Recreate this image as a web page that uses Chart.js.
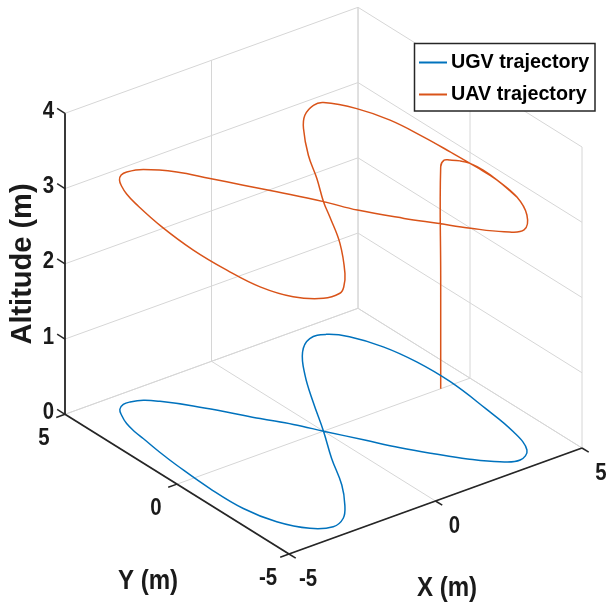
<!DOCTYPE html>
<html>
<head>
<meta charset="utf-8">
<script src="https://cdn.jsdelivr.net/npm/chart.js@4.4.1/dist/chart.umd.min.js"></script>
<style>
  html, body { margin: 0; padding: 0; background: #fff; }
  canvas { display: block; }
</style>
</head>
<body>
<canvas id="chartCanvas" width="608" height="610"></canvas>
<script>
// axis ticks (m)
const xTicks = [-5, 0, 5];
const yTicks = [-5, 0, 5];
const zTicks = [0, 1, 2, 3, 4];

// UGV ground track (z = 0)
const ugvX = [0, -0.42, -0.93, -1.43, -1.94, -2.50, -2.82, -3.17, -3.40, -3.64, -3.81, -3.99, -4.10, -4.15, -4.27, -4.35, -4.44, -4.41, -4.15, -3.66, -3.10, -2.59, -2.10, -1.47, -0.77,
              0, 0.79, 1.54, 2.29, 2.91, 3.41, 3.83, 4.21, 4.41, 4.45, 4.29, 4.08, 3.74, 3.25, 2.75, 2.15, 1.60, 1.08, 0.58, 0];
const ugvY = [0, 0.80, 1.61, 2.46, 3.28, 4.03, 4.35, 4.49, 4.49, 4.33, 4.03, 3.57, 3.05, 2.62, 1.71, 0.86, -0.74, -2.19, -3.34, -4.18, -4.49, -4.27, -3.70, -2.74, -1.37,
              0, 1.50, 2.84, 3.93, 4.42, 4.34, 3.85, 2.84, 1.61, 0.16, -1.59, -3.14, -4.19, -4.53, -4.28, -3.62, -2.83, -2.01, -1.08, 0];

// UAV: vertical take-off, then the figure eight at about 3 m
const uavX = [4, 4, 4, 4.04, 4.17, 4.36, 4.49, 4.54,
              4.50, 4.34, 3.93, 3.35, 2.86, 2.26, 1.71, 1.16, 0.44, 0,
              -0.67, -1.16, -1.65, -2.14, -2.78, -3.22, -3.45, -3.66, -3.82, -3.99, -4.12,
              -4.36, -4.49, -4.46, -4.32, -3.95, -3.35, -2.82, -2.52, -2.02, -1.09, -0.39, 0,
              0.66, 1.28, 2.10, 2.59, 3.12, 3.43, 3.94, 4.26, 4.40, 4.46, 4.50, 4.50, 4.34];
const uavY = [0, 0, 0, -0.10, -0.19, -0.39, -0.67, -1.19,
              -1.85, -2.95, -3.94, -4.57, -4.32, -3.62, -2.85, -2.08, -0.94, 0,
              1.21, 2.06, 2.91, 3.75, 4.41, 4.57, 4.52, 4.32, 4.02, 3.57, 3.02,
              1.54, -0.06, -1.52, -2.82, -3.81, -4.38, -4.42, -4.20, -3.60, -2.16, -0.79, 0,
              1.16, 2.35, 3.64, 4.22, 4.53, 4.49, 3.67, 2.60, 1.30, 0.18, -0.95, -1.85, -2.95];
const uavZ = [0, 1.5, 2.95, 3.05, 3.05,
              3.05, 3.05, 3.05, 3.05, 3.05, 3.05, 3.05, 3.05, 3.05, 3.05,
              3.05, 3.05, 3.05, 3.05, 3.05, 3.05, 3.05, 3.05, 3.05, 3.05, 3.05,
              3.05, 3.05, 3.05, 3.05, 3.05, 3.05, 3.05, 3.05, 3.05, 3.05, 3.05, 3.05,
              3.05, 3.05, 3.05, 3.05, 3.05, 3.05, 3.05, 3.05, 3.05, 3.05, 3.05, 3.05, 3.05, 3.05, 3.05, 3.05];

const seriesNames = ['UGV trajectory', 'UAV trajectory'];
const seriesColors = ['#0072BD', '#D95319'];

// oblique view: front-bottom corner and screen step per metre along x, y, z
const view = { fx: 289, fy: 554, ex: [29.3, -10.6], ey: [-22.4, -13.97], ez: 75.25 };
const xMin = xTicks[0], xMax = xTicks[xTicks.length - 1];
const yMin = yTicks[0], yMax = yTicks[yTicks.length - 1];
const zMin = zTicks[0], zMax = zTicks[zTicks.length - 1];

function project(x, y, z) {
    const u = x - xMin, v = y - yMin;
    return {
        x: view.fx + u * view.ex[0] + v * view.ey[0],
        y: view.fy + u * view.ex[1] + v * view.ey[1] - (z - zMin) * view.ez
    };
}

const ugvPoints = ugvX.map((x, i) => project(x, ugvY[i], 0));
const uavPoints = uavX.map((x, i) => project(x, uavY[i], uavZ[i]));

const FONT = '"Liberation Sans", Arial, sans-serif';

// narrow bold text, like the figure's labels
function label(ctx, str, x, y, size, squeeze, angle) {
    ctx.save();
    ctx.translate(x, y);
    if (angle) ctx.rotate(angle);
    ctx.scale(squeeze, 1);
    ctx.font = 'bold ' + size + 'px ' + FONT;
    ctx.fillText(str, 0, 0);
    ctx.restore();
}

const boxPlugin = {
    id: 'box3d',
    beforeDatasetsDraw(chart) {
        const ctx = chart.ctx;
        const sx = chart.scales.x, sy = chart.scales.y;
        const px = p => [sx.getPixelForValue(p.x), sy.getPixelForValue(p.y)];
        const line = (a, b) => {
            const p = px(project(...a)), q = px(project(...b));
            ctx.beginPath();
            ctx.moveTo(p[0], p[1]);
            ctx.lineTo(q[0], q[1]);
            ctx.stroke();
        };
        ctx.save();
        ctx.strokeStyle = '#d6d6d6';
        ctx.lineWidth = 1;
        // back wall y = yMax
        zTicks.forEach(z => line([xMin, yMax, z], [xMax, yMax, z]));
        xTicks.forEach(x => line([x, yMax, zMin], [x, yMax, zMax]));
        // back wall x = xMax
        zTicks.forEach(z => line([xMax, yMin, z], [xMax, yMax, z]));
        yTicks.forEach(y => line([xMax, y, zMin], [xMax, y, zMax]));
        // floor
        xTicks.forEach(x => line([x, yMin, zMin], [x, yMax, zMin]));
        yTicks.forEach(y => line([xMin, y, zMin], [xMax, y, zMin]));

        // axis lines and ticks
        ctx.strokeStyle = '#262626';
        ctx.lineWidth = 1.8;
        line([xMin, yMax, zMin], [xMin, yMax, zMax]);
        line([xMin, yMin, zMin], [xMin, yMax, zMin]);
        line([xMin, yMin, zMin], [xMax, yMin, zMin]);
        ctx.lineWidth = 1.5;
        zTicks.forEach(z => line([xMin, yMax, z], [xMin, yMax + 0.35, z]));
        yTicks.forEach(y => line([xMin, y, zMin], [xMin - 0.3, y, zMin]));
        xTicks.forEach(x => line([x, yMin, zMin], [x, yMin - 0.3, zMin]));
        ctx.restore();
    },
    afterDatasetsDraw(chart) {
        const ctx = chart.ctx;
        const sx = chart.scales.x, sy = chart.scales.y;
        const px = p => [sx.getPixelForValue(p.x), sy.getPixelForValue(p.y)];
        ctx.save();
        ctx.fillStyle = '#1a1a1a';
        ctx.textBaseline = 'middle';
        // z tick labels
        ctx.textAlign = 'right';
        zTicks.forEach(z => {
            const p = px(project(xMin, yMax, z));
            label(ctx, String(z), p[0] - 11, p[1] - 2, 24, 0.85);
        });
        // y tick labels
        ctx.textAlign = 'center';
        yTicks.forEach(y => {
            const p = px(project(xMin, y, zMin));
            label(ctx, String(y), p[0] - 21, p[1] + 24, 24, 0.85);
        });
        // x tick labels
        xTicks.forEach(x => {
            const p = px(project(x, yMin, zMin));
            label(ctx, String(x), p[0] + 19, p[1] + 25, 24, 0.85);
        });

        // axis titles
        label(ctx, 'X (m)', 447, 588, 28, 0.86);
        label(ctx, 'Y (m)', 148, 581, 28, 0.86);
        label(ctx, 'Altitude (m)', 23, 264, 29, 1, -Math.PI / 2);

        // legend
        ctx.fillStyle = '#fff';
        ctx.fillRect(414.5, 43.5, 180.5, 67.5);
        ctx.strokeStyle = '#262626';
        ctx.lineWidth = 1.5;
        ctx.strokeRect(414.5, 43.5, 180.5, 67.5);
        ctx.textAlign = 'left';
        seriesNames.forEach((name, i) => {
            const yy = 62.5 + i * 32;
            ctx.strokeStyle = seriesColors[i];
            ctx.lineWidth = 2;
            ctx.beginPath();
            ctx.moveTo(419, yy);
            ctx.lineTo(447, yy);
            ctx.stroke();
            ctx.fillStyle = '#000';
            label(ctx, name, 451, yy, 21, 0.94);
        });
        ctx.restore();
    }
};

const ctx = document.getElementById('chartCanvas');
window.myChart = new Chart(ctx, {
    type: 'scatter',
    data: {
        datasets: [{
            label: seriesNames[0],
            data: ugvPoints,
            showLine: true,
            borderColor: seriesColors[0],
            borderWidth: 1.5,
            pointRadius: 0,
            tension: 0.4
        }, {
            label: seriesNames[1],
            data: uavPoints,
            showLine: true,
            borderColor: seriesColors[1],
            borderWidth: 1.5,
            pointRadius: 0,
            tension: 0.4
        }]
    },
    options: {
        responsive: false,
        animation: false,
        devicePixelRatio: 1,
        layout: { padding: 0 },
        plugins: { legend: { display: false }, tooltip: { enabled: false } },
        scales: {
            x: { type: 'linear', min: 0, max: 608, display: false },
            y: { type: 'linear', min: 0, max: 610, reverse: true, display: false }
        }
    },
    plugins: [boxPlugin]
});
</script>
</body>
</html>
